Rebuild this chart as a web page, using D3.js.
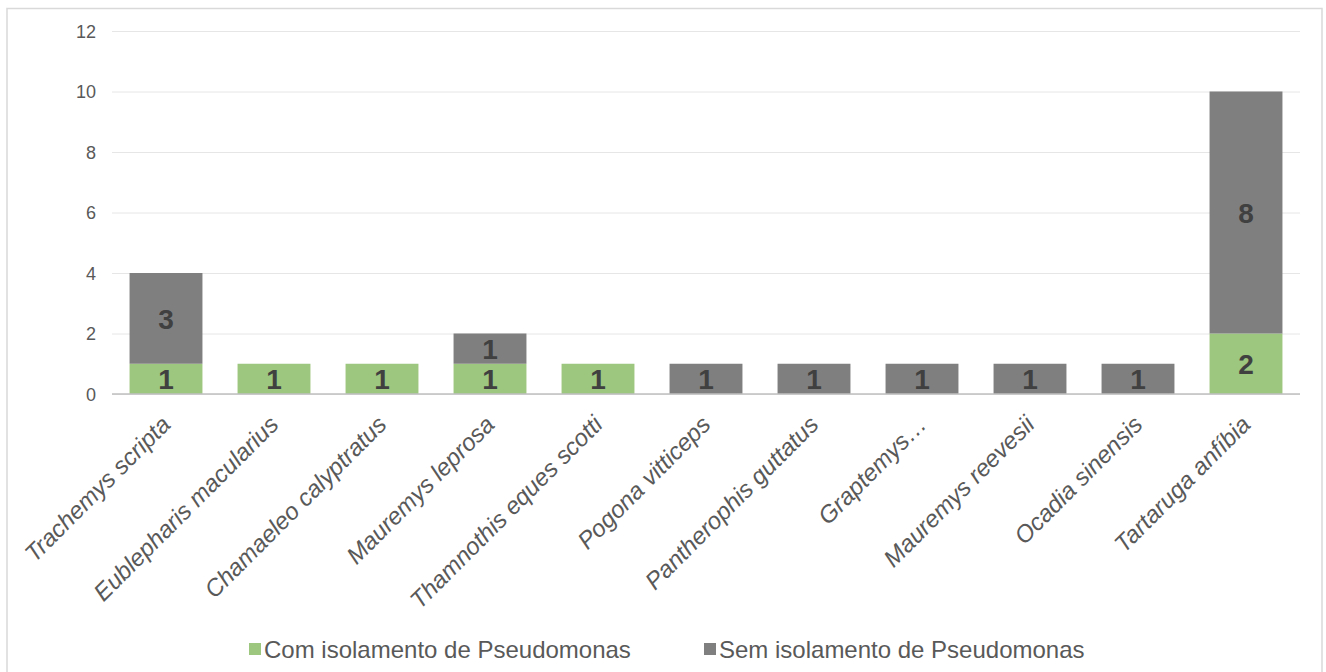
<!DOCTYPE html>
<html>
<head>
<meta charset="utf-8">
<script src="https://cdn.jsdelivr.net/npm/d3@7"></script>
<style>
  html, body { margin: 0; padding: 0; background: #fff; }
  svg { display: block; }
  svg text { font-family: "Liberation Sans", Arial, Helvetica, sans-serif; }
</style>
</head>
<body>
<svg id="chart" width="1326" height="672"></svg>
<script>
// Species sampled and counts per outcome
const species = [
  "Trachemys scripta", "Eublepharis macularius", "Chamaeleo calyptratus",
  "Mauremys leprosa", "Thamnothis eques scotti", "Pogona vitticeps",
  "Pantherophis guttatus", "Graptemys…", "Mauremys reevesii",
  "Ocadia sinensis", "Tartaruga anfíbia"
];
const comIsolamento = [1, 1, 1, 1, 1, 0, 0, 0, 0, 0, 2];
const semIsolamento = [3, 0, 0, 1, 0, 1, 1, 1, 1, 1, 8];
const seriesNames = ["Com isolamento de Pseudomonas", "Sem isolamento de Pseudomonas"];
const seriesColors = ["#9dc67f", "#7f7f7f"];
const yTicks = [0, 2, 4, 6, 8, 10, 12];

const svg = d3.select("#chart");

// outer frame
svg.append("rect")
  .attr("x", 7).attr("y", 8.5)
  .attr("width", 1315).attr("height", 680)
  .attr("fill", "#fff").attr("stroke", "#d9d9d9").attr("stroke-width", 1.5);

const plot = { left: 112, right: 1300, top: 31, bottom: 394 };

const x = d3.scaleBand()
  .domain(species)
  .range([plot.left, plot.right])
  .paddingInner(0.325)
  .paddingOuter(0.1625);

const y = d3.scaleLinear().domain([0, 12]).range([plot.bottom, plot.top]);

// gridlines + y labels
const yAxis = d3.axisLeft(y)
  .tickValues(yTicks)
  .tickSize(-(plot.right - plot.left))
  .tickPadding(0)
  .tickFormat(d3.format("d"));

const gy = svg.append("g")
  .attr("transform", `translate(${plot.left},0)`)
  .call(yAxis)
  .attr("font-family", null).attr("font-size", null);
gy.select(".domain").remove();
gy.selectAll(".tick line").attr("stroke", "#e6e6e6").attr("stroke-width", 1);
gy.selectAll(".tick text")
  .attr("x", -16).attr("dy", null)
  .attr("text-anchor", "end")
  .attr("dominant-baseline", "central")
  .attr("fill", "#595959")
  .style("font-size", "18px");

// stacked data
const rows = species.map((s, i) => ({ species: s, com: comIsolamento[i], sem: semIsolamento[i] }));
const stacked = d3.stack().keys(["com", "sem"])(rows);

const layers = svg.append("g").selectAll("g")
  .data(stacked)
  .join("g")
  .attr("fill", (d, i) => seriesColors[i]);

layers.selectAll("rect")
  .data(d => d.filter(p => p[1] - p[0] > 0))
  .join("rect")
  .attr("x", d => x(d.data.species))
  .attr("y", d => y(d[1]))
  .attr("width", x.bandwidth())
  .attr("height", d => y(d[0]) - y(d[1]));

// value labels
layers.selectAll("text")
  .data(d => d.filter(p => p[1] - p[0] > 0))
  .join("text")
  .attr("x", d => x(d.data.species) + x.bandwidth() / 2)
  .attr("y", d => (y(d[0]) + y(d[1])) / 2 + 1)
  .attr("text-anchor", "middle")
  .attr("dominant-baseline", "central")
  .attr("fill", "#404040")
  .style("font-size", "28px")
  .style("font-weight", "bold")
  .text(d => d[1] - d[0]);

// x axis baseline
svg.append("line")
  .attr("x1", plot.left).attr("x2", plot.right)
  .attr("y1", y(0)).attr("y2", y(0))
  .attr("stroke", "#bfbfbf").attr("stroke-width", 1.5);

// rotated category labels
const xAxis = d3.axisBottom(x).tickSize(0).tickPadding(0);
const gx = svg.append("g")
  .attr("transform", `translate(0,${plot.bottom})`)
  .call(xAxis)
  .attr("font-family", null).attr("font-size", null);
gx.select(".domain").remove();
gx.selectAll(".tick text")
  .attr("y", null).attr("dy", null)
  .attr("text-anchor", "end")
  .attr("transform", "translate(6,32) rotate(-45)")
  .attr("fill", "#595959")
  .style("font-size", "24px")
  .style("font-style", "italic");

// legend
const legend = svg.append("g");
const legendX = [249, 704];
seriesNames.forEach((name, i) => {
  const g = legend.append("g").attr("transform", `translate(${legendX[i]},643)`);
  g.append("rect").attr("width", 12).attr("height", 12).attr("fill", seriesColors[i]);
  g.append("text")
    .attr("x", 15).attr("y", 6.5)
    .attr("dominant-baseline", "central")
    .attr("fill", "#595959")
    .style("font-size", "24px")
    .text(name);
});
</script>
</body>
</html>
